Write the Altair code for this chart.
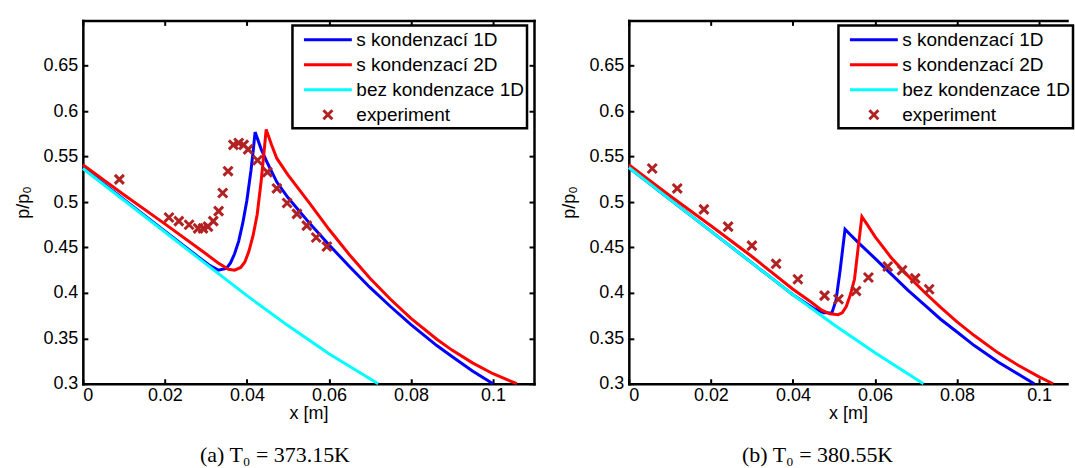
import altair as alt
import pandas as pd

# ---------------- data ----------------
series_names = ["s kondenzací 1D", "s kondenzací 2D", "bez kondenzace 1D", "experiment"]
series_colors = ["#0000ff", "#ff0000", "#00ffff", "#b22222"]
LINE_PATH = "M-2.4,0L2.4,0"
X_PATH = "M-0.45,-0.45L0.45,0.45M-0.45,0.45L0.45,-0.45"
series_shapes = [LINE_PATH, LINE_PATH, LINE_PATH, X_PATH]

x_ticks = [0, 0.02, 0.04, 0.06, 0.08, 0.1]
y_ticks = [0.3, 0.35, 0.4, 0.45, 0.5, 0.55, 0.6, 0.65]

# panel (a) T0 = 373.15 K
a_cyan_x = [0, 0.01, 0.02, 0.03, 0.04, 0.05, 0.06, 0.072]
a_cyan_y = [0.537, 0.502, 0.467, 0.432, 0.397, 0.364, 0.333, 0.300]

a_blue_x = [0, 0.01, 0.02, 0.028, 0.031, 0.033, 0.035, 0.036, 0.037, 0.038, 0.039,
            0.040, 0.041, 0.0415, 0.042, 0.0435, 0.045, 0.0473, 0.050, 0.0554, 0.060,
            0.065, 0.070, 0.075, 0.080, 0.0863, 0.090, 0.095, 0.100]
a_blue_y = [0.538, 0.503, 0.468, 0.440, 0.430, 0.425, 0.427, 0.433, 0.443, 0.457, 0.477,
            0.502, 0.535, 0.555, 0.577, 0.558, 0.543, 0.522, 0.505, 0.476, 0.453,
            0.429, 0.406, 0.385, 0.365, 0.342, 0.330, 0.314, 0.300]

a_red_x = [0, 0.01, 0.02, 0.03, 0.033, 0.0355, 0.037, 0.0385, 0.0395, 0.0405, 0.0415,
           0.0425, 0.0435, 0.0442, 0.0447, 0.046, 0.0473, 0.050, 0.0554, 0.060, 0.065,
           0.070, 0.075, 0.080, 0.0863, 0.090, 0.095, 0.100, 0.1058]
a_red_y = [0.541, 0.508, 0.476, 0.443, 0.433, 0.426, 0.425, 0.428, 0.434, 0.446, 0.463,
           0.486, 0.524, 0.556, 0.580, 0.563, 0.548, 0.530, 0.498, 0.470, 0.442,
           0.416, 0.393, 0.372, 0.349, 0.337, 0.323, 0.311, 0.300]

a_exp_x = [0.0089, 0.021, 0.0234, 0.0259, 0.0281, 0.0293, 0.0305, 0.0318, 0.0331, 0.0341,
           0.0354, 0.0367, 0.038, 0.0392, 0.0403, 0.0426, 0.045, 0.0473, 0.0498, 0.0522,
           0.0546, 0.0569, 0.0595]
a_exp_y = [0.525, 0.483, 0.479, 0.475, 0.471, 0.471, 0.473, 0.479, 0.490, 0.510,
           0.534, 0.563, 0.565, 0.563, 0.558, 0.546, 0.533, 0.515, 0.499, 0.487,
           0.474, 0.461, 0.451]

# panel (b) T0 = 380.55 K
b_cyan_x = [0, 0.01, 0.02, 0.03, 0.04, 0.05, 0.06, 0.0718]
b_cyan_y = [0.538, 0.503, 0.468, 0.433, 0.398, 0.365, 0.334, 0.300]

b_blue_x = [0, 0.01, 0.02, 0.03, 0.04, 0.045, 0.0475, 0.0495, 0.0505, 0.0515, 0.0527,
            0.054, 0.056, 0.060, 0.0639, 0.068, 0.072, 0.076, 0.080, 0.0842, 0.090,
            0.0988]
b_blue_y = [0.538, 0.503, 0.468, 0.433, 0.398, 0.383, 0.378, 0.378, 0.392, 0.425, 0.470,
            0.464, 0.455, 0.438, 0.421, 0.403, 0.387, 0.371, 0.357, 0.342, 0.324,
            0.300]

b_red_x = [0, 0.01, 0.02, 0.03, 0.04, 0.0444, 0.047, 0.049, 0.051, 0.052, 0.053, 0.054,
           0.055, 0.0558, 0.0568, 0.058, 0.060, 0.0639, 0.068, 0.072, 0.076, 0.080,
           0.0842, 0.090, 0.095, 0.100, 0.1034]
b_red_y = [0.541, 0.507, 0.474, 0.440, 0.404, 0.390, 0.381, 0.377, 0.376, 0.378, 0.385, 0.398,
           0.415, 0.446, 0.484, 0.476, 0.462, 0.439, 0.419, 0.401, 0.384, 0.368,
           0.353, 0.334, 0.320, 0.3075, 0.300]

b_exp_x = [0.0057, 0.0118, 0.0183, 0.0242, 0.030, 0.0359, 0.0412, 0.0477, 0.0511, 0.0554,
           0.0584, 0.0631, 0.0666, 0.0698, 0.0732]
b_exp_y = [0.537, 0.515, 0.492, 0.473, 0.452, 0.432, 0.415, 0.397, 0.393, 0.402,
           0.417, 0.429, 0.425, 0.416, 0.404]

FONT = "Liberation Sans"
BLACK = "black"


def line_df(xs, ys):
    return pd.DataFrame({"x": xs, "y": ys})


def label_axis_x():
    return alt.Axis(orient="bottom", values=x_ticks, format=".2~f", labelFont=FONT,
                    labelFontSize=18, labelColor=BLACK, labelPadding=3, ticks=False,
                    domain=True, domainColor=BLACK, domainWidth=2.5, domainCap="square",
                    grid=False, title="x [m]", titleFont=FONT, titleFontSize=18,
                    titleFontWeight="normal", titleColor=BLACK, titlePadding=0)


def label_axis_y():
    return alt.Axis(orient="left", values=y_ticks, format=".2~f", labelFont=FONT,
                    labelFontSize=18, labelColor=BLACK, labelPadding=5, ticks=False,
                    domain=True, domainColor=BLACK, domainWidth=2.5, domainCap="square",
                    grid=False, title="p/p₀", titleFont=FONT, titleFontSize=18,
                    titleFontWeight="normal", titleColor=BLACK, titlePadding=10)


def domain_axis(orient):
    return alt.Axis(orient=orient, labels=False, ticks=False, domain=True,
                    domainColor=BLACK, domainWidth=2.5, domainCap="square",
                    grid=False, title=None)


def tick_axis(orient, values):
    return alt.Axis(orient=orient, values=values, labels=False, ticks=True,
                    tickSize=5, tickWidth=2, tickColor=BLACK, offset=-5,
                    domain=False, grid=False, title=None)


def panel(cx, cy, bx, by, rx, ry, ex, ey, xmax, width, right_side, caption):
    xs = alt.Scale(domain=[0, xmax], nice=False, zero=False)
    ys = alt.Scale(domain=[0.3, 0.7], nice=False, zero=False)

    blue = alt.Chart(line_df(bx, by)).mark_line(color="#0000ff", strokeWidth=3).encode(
        x=alt.X("x:Q", scale=xs, axis=label_axis_x()),
        y=alt.Y("y:Q", scale=ys, axis=label_axis_y()),
    )
    red = alt.Chart(line_df(rx, ry)).mark_line(color="#ff0000", strokeWidth=3).encode(
        x=alt.X("x:Q", scale=xs, axis=domain_axis("top")),
        y=alt.Y("y:Q", scale=ys, axis=domain_axis("right") if right_side else None),
    )
    cyan = alt.Chart(line_df(cx, cy)).mark_line(color="#00ffff", strokeWidth=3).encode(
        x=alt.X("x:Q", scale=xs, axis=tick_axis("bottom", x_ticks)),
        y=alt.Y("y:Q", scale=ys, axis=tick_axis("left", y_ticks)),
    )
    legend = alt.Legend(title=None, orient="none", legendX=210, legendY=5,
                        strokeColor=BLACK, fillColor="white", padding=3,
                        labelFont=FONT, labelFontSize=19, labelColor=BLACK,
                        labelLimit=400, symbolSize=400, symbolStrokeWidth=3,
                        symbolOffset=21, rowPadding=3, labelOffset=17)
    exp_df = pd.DataFrame({"x": ex, "y": ey, "series": ["experiment"] * len(ex)})
    pts = alt.Chart(exp_df).mark_point(filled=False, size=400, strokeWidth=3,
                                       opacity=1).encode(
        x=alt.X("x:Q", scale=xs, axis=tick_axis("top", x_ticks)),
        y=alt.Y("y:Q", scale=ys,
                axis=tick_axis("right", y_ticks) if right_side else None),
        color=alt.Color("series:N", scale=alt.Scale(domain=series_names, range=series_colors),
                        legend=legend),
        shape=alt.Shape("series:N", scale=alt.Scale(domain=series_names, range=series_shapes),
                        legend=legend),
    )
    return alt.layer(blue, red, cyan, pts).resolve_axis(
        x="independent", y="independent"
    ).properties(
        width=width, height=364,
        title=alt.TitleParams(text=caption, orient="bottom", anchor="middle",
                              frame="bounds", font="Liberation Serif", fontSize=22,
                              fontWeight="normal", color=BLACK, offset=22),
    )


left = panel(a_cyan_x, a_cyan_y, a_blue_x, a_blue_y, a_red_x, a_red_y,
             a_exp_x, a_exp_y, 0.11, 452, True, "(a) T₀ = 373.15K")
right = panel(b_cyan_x, b_cyan_y, b_blue_x, b_blue_y, b_red_x, b_red_y,
              b_exp_x, b_exp_y, 0.1068, 439, False, "(b) T₀ = 380.55K")

chart = alt.hconcat(left, right, spacing=24).resolve_scale(
    color="independent", shape="independent"
).resolve_legend(
    color="independent", shape="independent"
).properties(
    padding={"left": 14, "top": 18, "right": 0, "bottom": 0},
    background="white",
).configure_view(stroke="transparent").configure_legend(strokeWidth=2.5)

chart.save("out.html", embed_options={"renderer": "svg", "actions": False})
